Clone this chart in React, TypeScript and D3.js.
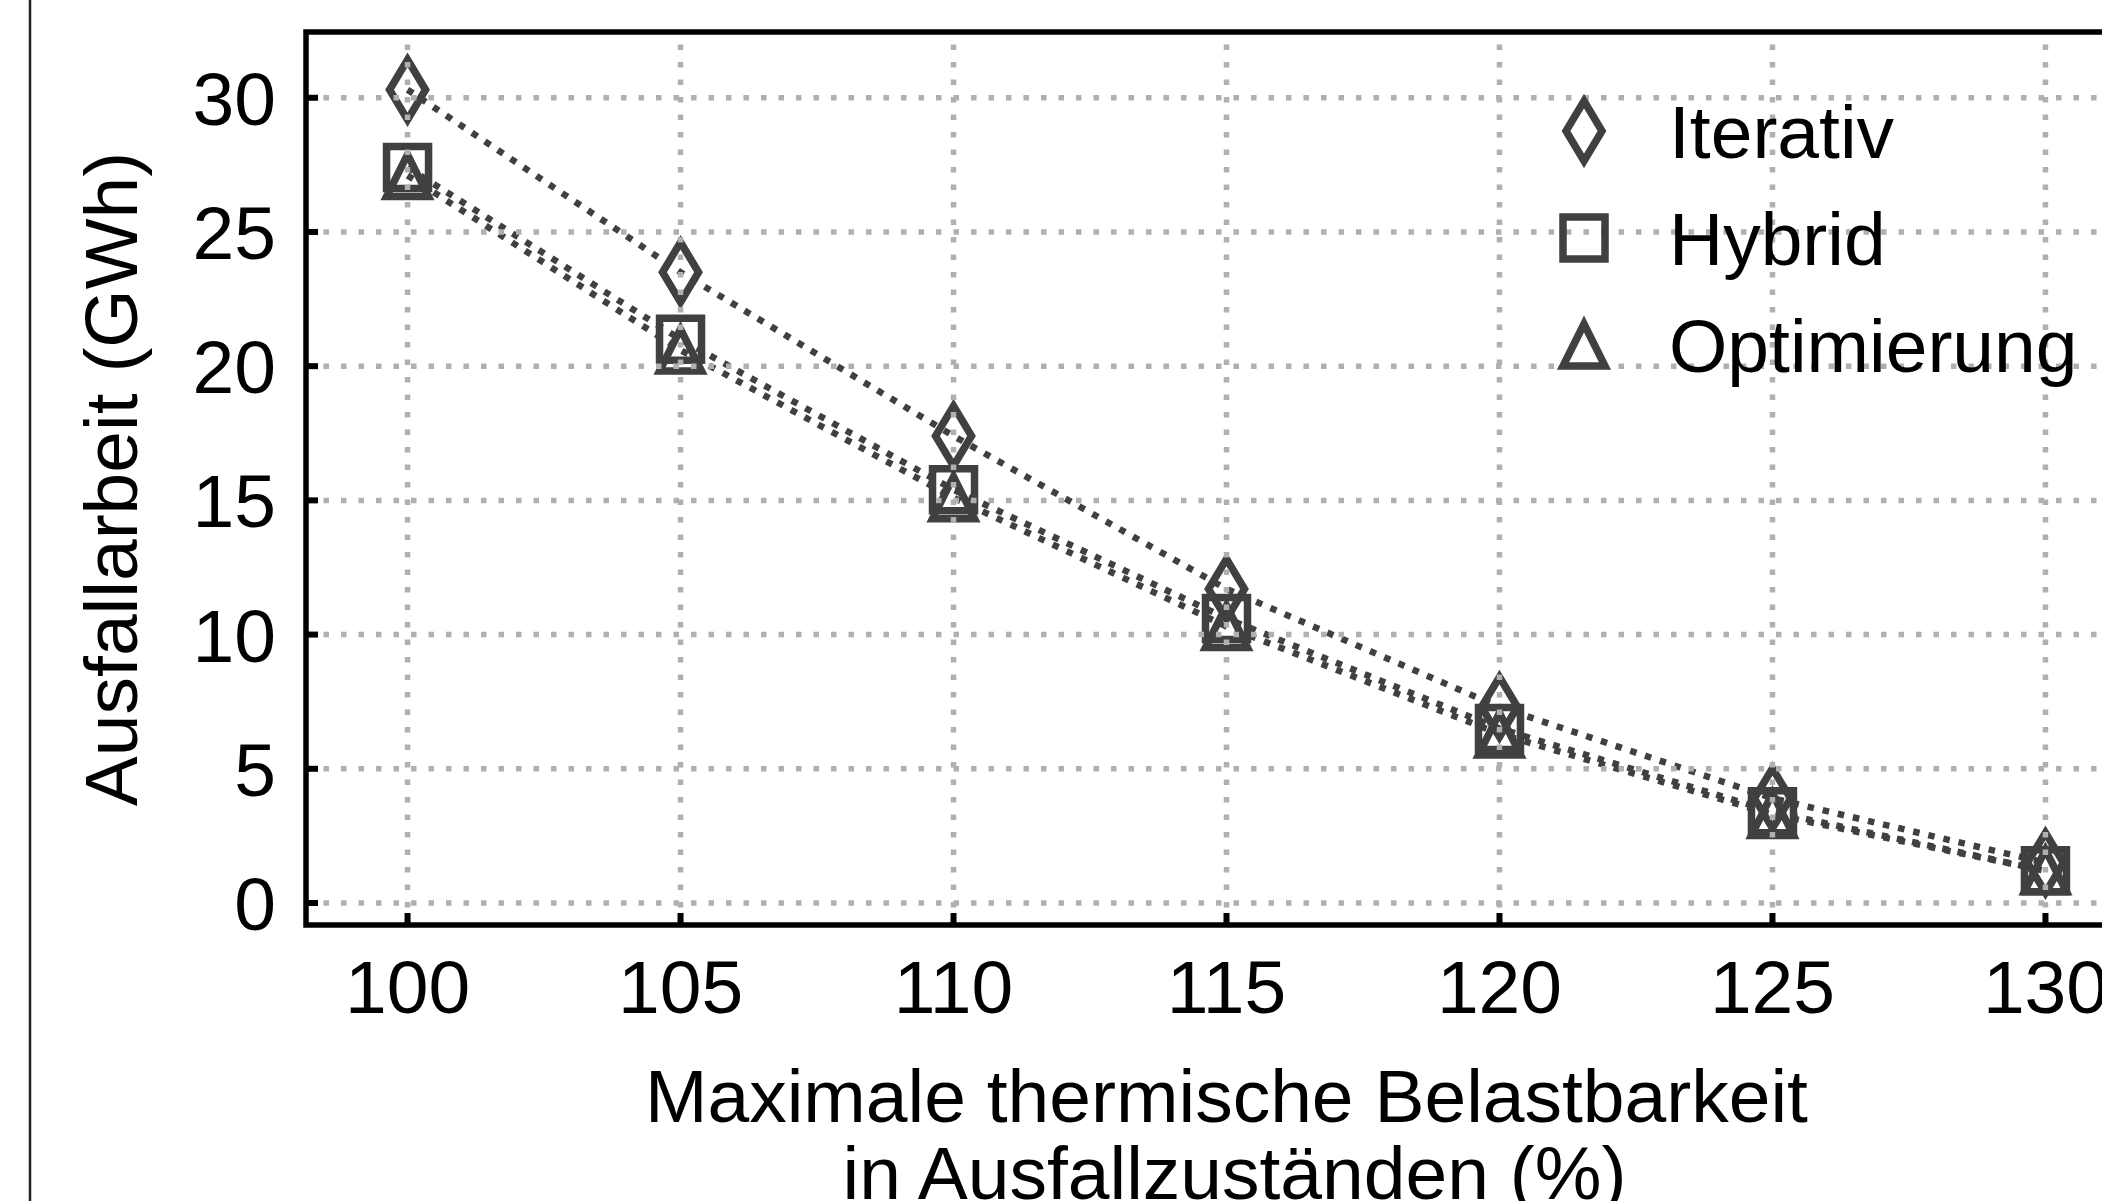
import React, { useEffect, useRef } from "react";
import * as d3 from "d3";

// x: max. thermal load in outage states (%), y: energy not served (GWh)
const thresholds = [100, 105, 110, 115, 120, 125, 130];
const iterativ = [30.3, 23.5, 17.4, 11.7, 7.3, 3.9, 1.5];
const hybrid = [27.4, 21.0, 15.4, 10.6, 6.5, 3.4, 1.2];
const optimierung = [27.1, 20.6, 15.1, 10.3, 6.3, 3.3, 1.2];
const yTicks = [0, 5, 10, 15, 20, 25, 30];
const seriesNames = ["Iterativ", "Hybrid", "Optimierung"];
const markerKinds = ["diamond", "square", "triangle"];

const W = 2102;
const H = 1201;
const FONT = "'Liberation Sans', Arial, Helvetica, sans-serif";
const INK = "#404040";

function markerPath(kind: string) {
  if (kind === "diamond") return "M0,-30L18,0L0,30L-18,0Z";
  if (kind === "square") return "M-21,-21H21V21H-21Z";
  return "M0,-21L21,21L-21,21Z";
}

export default function App() {
  const ref = useRef<SVGSVGElement | null>(null);

  useEffect(() => {
    const svg = d3.select(ref.current);
    svg.selectAll("*").remove();

    const left = 306, right = 2147, top = 32, bottom = 925;
    const x = d3.scaleLinear().domain([98.14, 131.86]).range([left, right]);
    const y = d3.scaleLinear().domain([-0.82, 32.45]).range([bottom, top]);

    // thin border at the far left of the figure
    svg.append("line")
      .attr("x1", 30).attr("x2", 30).attr("y1", 0).attr("y2", H)
      .attr("stroke", "#222").attr("stroke-width", 2.5);

    const series = [iterativ, hybrid, optimierung];
    const line = d3.line<number>()
      .x((d, i) => x(thresholds[i]))
      .y(d => y(d));

    // dotted lines
    svg.selectAll(".series")
      .data(series)
      .join("path")
      .attr("class", "series")
      .attr("d", d => line(d))
      .attr("fill", "none")
      .attr("stroke", INK)
      .attr("stroke-width", 6.5)
      .attr("stroke-dasharray", "6.5 9");

    // hollow markers
    series.forEach((vals, s) => {
      svg.selectAll(".m" + s)
        .data(vals)
        .join("path")
        .attr("class", "m" + s)
        .attr("transform", (d, i) => `translate(${x(thresholds[i])},${y(d)})`)
        .attr("d", markerPath(markerKinds[s]))
        .attr("fill", "none")
        .attr("stroke", INK)
        .attr("stroke-width", 7.5)
        .attr("stroke-linejoin", "miter");
    });

    // grid on top
    const grid = svg.append("g")
      .attr("stroke", "#b0b0b0")
      .attr("stroke-width", 5.5)
      .attr("stroke-dasharray", "5.5 12");
    grid.selectAll(".gx").data(thresholds).join("line")
      .attr("x1", d => x(d)).attr("x2", d => x(d))
      .attr("y1", bottom).attr("y2", top);
    grid.selectAll(".gy").data(yTicks).join("line")
      .attr("x1", left).attr("x2", right)
      .attr("y1", d => y(d)).attr("y2", d => y(d));

    // ticks (inward)
    const ticks = svg.append("g").attr("stroke", "#000").attr("stroke-width", 6);
    ticks.selectAll(".tx").data(thresholds).join("line")
      .attr("x1", d => x(d)).attr("x2", d => x(d))
      .attr("y1", bottom).attr("y2", bottom - 12);
    ticks.selectAll(".ty").data(yTicks).join("line")
      .attr("x1", left).attr("x2", left + 12)
      .attr("y1", d => y(d)).attr("y2", d => y(d));

    // spines
    svg.append("rect")
      .attr("x", left).attr("y", top)
      .attr("width", right - left).attr("height", bottom - top)
      .attr("fill", "none").attr("stroke", "#000").attr("stroke-width", 5.5);

    const text = svg.append("g")
      .attr("font-family", FONT)
      .attr("font-size", 75)
      .attr("fill", "#000");

    text.selectAll(".xl").data(thresholds).join("text")
      .attr("x", d => x(d)).attr("y", 1013)
      .attr("text-anchor", "middle")
      .text(d => d);

    text.selectAll(".yl").data(yTicks).join("text")
      .attr("x", 276).attr("y", d => y(d) + 27)
      .attr("text-anchor", "end")
      .text(d => d);

    text.append("text")
      .attr("x", (left + right) / 2).attr("y", 1122)
      .attr("text-anchor", "middle")
      .text("Maximale thermische Belastbarkeit");
    text.append("text")
      .attr("x", (left + right) / 2 + 8).attr("y", 1199)
      .attr("text-anchor", "middle")
      .text("in Ausfallzuständen (%)");

    text.append("text")
      .attr("transform", "translate(137,479) rotate(-90)")
      .attr("text-anchor", "middle")
      .text("Ausfallarbeit (GWh)");

    // legend
    const rows = [131, 238, 345];
    seriesNames.forEach((name, s) => {
      svg.append("path")
        .attr("transform", `translate(1584,${rows[s]})`)
        .attr("d", markerPath(markerKinds[s]))
        .attr("fill", "none")
        .attr("stroke", INK)
        .attr("stroke-width", 7.5);
      text.append("text")
        .attr("x", 1669).attr("y", rows[s] + 27)
        .text(name);
    });
  }, []);

  return (
    <div style={{ position: "fixed", left: 0, top: 0, width: W, height: H, overflow: "hidden", background: "#fff" }}>
      <svg ref={ref} width={W} height={H} style={{ display: "block" }} />
    </div>
  );
}
